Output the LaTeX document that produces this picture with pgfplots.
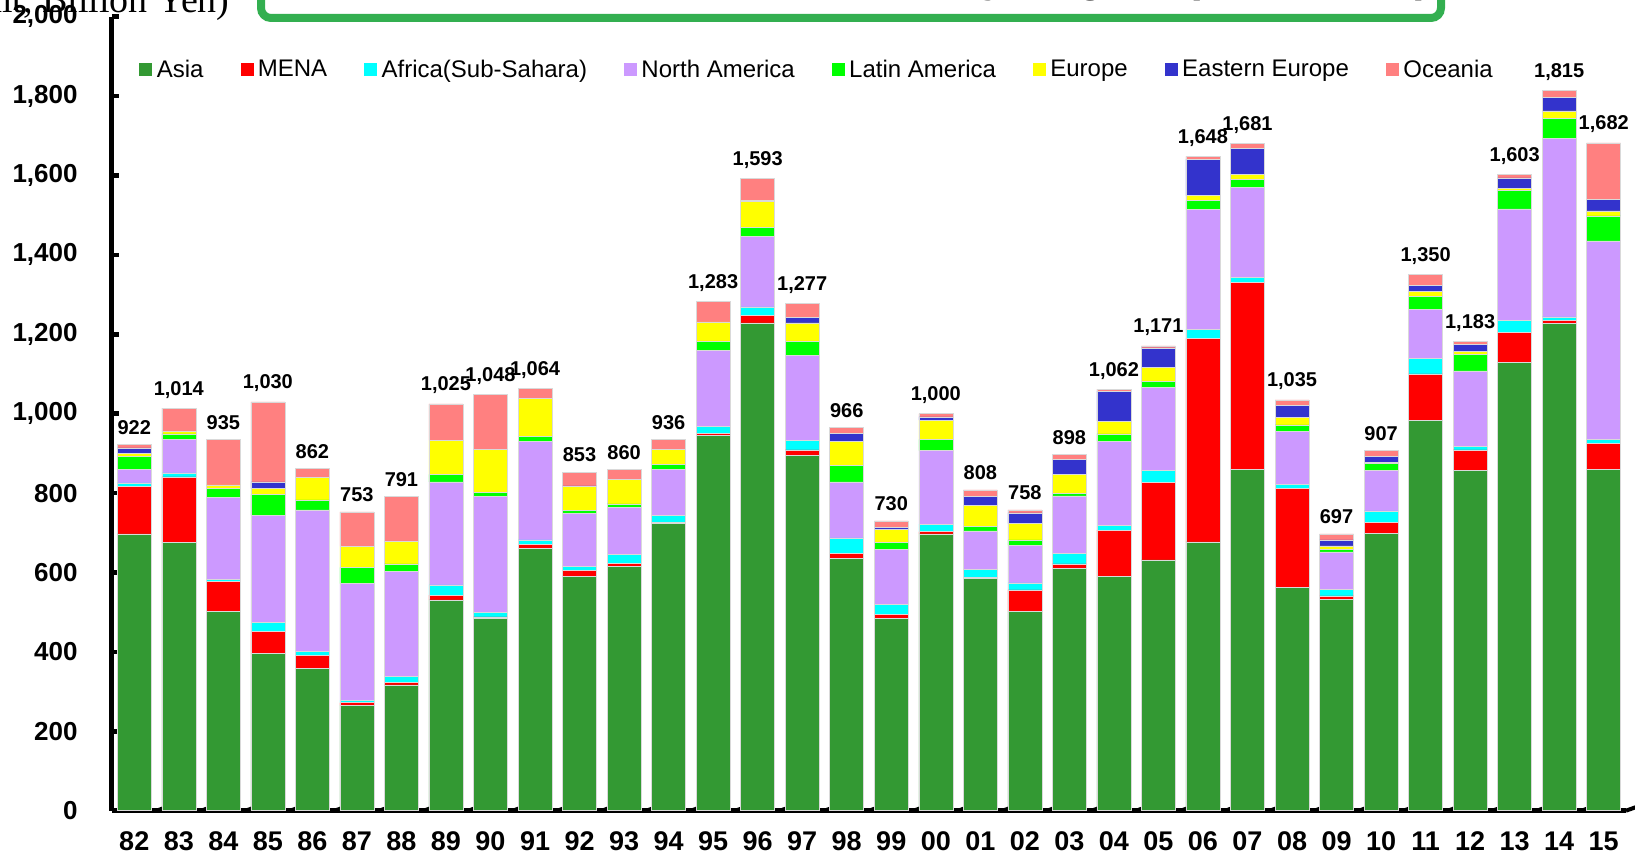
\documentclass[border=0pt]{standalone}
\usepackage{pgfplots}
\pgfplotsset{compat=1.18}
\usepackage{pgfplotstable}
\usepackage{fontspec}
\setmainfont{Liberation Sans}
\newfontfamily\seriffont{Liberation Serif}

\definecolor{cAsia}{RGB}{51,153,51}
\definecolor{cMENA}{RGB}{255,0,0}
\definecolor{cAfrica}{RGB}{0,255,255}
\definecolor{cNA}{RGB}{204,153,255}
\definecolor{cLA}{RGB}{0,255,0}
\definecolor{cEurope}{RGB}{255,255,0}
\definecolor{cEE}{RGB}{51,51,204}
\definecolor{cOceania}{RGB}{255,128,128}
\definecolor{boxgreen}{RGB}{51,175,80}

\pgfplotstableread{
x Asia MENA Africa NA LA Europe EE Oceania Total
0 697 120 9 33 34 7 14 8 922
1 676 165 10 84 14 7 0 58 1014
2 502 76 5 206 22 10 0 114 935
3 397 54 23 270 52 15 17 202 1030
4 358 33 10 357 25 56 0 23 862
5 266 6 6 294 41 53 0 87 753
6 317 6 16 263 20 57 0 112 791
7 531 12 26 259 19 86 0 92 1025
8 485 3 12 291 10 109 0 138 1048
9 661 9 12 248 13 95 0 26 1064
10 591 14 11 132 9 60 1 35 853
11 616 7 23 118 9 61 1 25 860
12 723 3 18 115 13 39 0 25 936
13 945 6 18 190 23 49 0 52 1283
14 1229 19 21 177 23 66 3 55 1593
15 895 14 24 214 35 47 14 34 1277
16 636 12 39 141 42 60 20 16 966
17 484 10 26 139 16 33 5 17 730
18 697 6 19 185 28 49 8 8 1000
19 586 1 21 97 12 52 23 16 808
20 503 53 18 94 14 41 27 8 758
21 611 11 27 144 6 48 38 13 898
22 590 117 11 212 19 32 76 5 1062
23 632 195 30 210 15 34 50 5 1171
24 677 513 23 301 23 12 92 7 1648
25 860 471 12 227 20 12 67 12 1681
26 562 250 10 134 16 19 30 14 1035
27 532 9 17 94 7 8 15 15 697
28 698 28 29 102 18 3 15 14 907
29 984 116 39 124 33 12 15 27 1350
30 857 52 8 191 42 7 17 9 1183
31 1129 75 32 280 47 5 26 9 1603
32 1228 8 8 450 49 20 34 18 1815
33 859 66 11 499 63 13 29 142 1682
}\datatable

\pgfplotsset{
  legimg/.style={legend image code/.code={\fill[##1,draw=none] (0pt,-3.25pt) rectangle (6.5pt,3.25pt);}},
}

\begin{document}
\begin{tikzpicture}
\useasboundingbox (-56pt,-22.65pt) rectangle (761.5pt,405.35pt);
\begin{axis}[
  at={(0,0)}, anchor=south west,
  scale only axis,
  width=757pt, height=397pt,
  ybar stacked,
  bar width=17pt,
  xmin=-0.5, xmax=33.5,
  ymin=0, ymax=2000,
  enlarge x limits=false, enlarge y limits=false,
  axis x line*=bottom, axis y line*=left,
  axis line style={line width=2.5pt, black},
  xtick={0,...,33},
  xticklabels={82,83,84,85,86,87,88,89,90,91,92,93,94,95,96,97,98,99,00,01,02,03,04,05,06,07,08,09,10,11,12,13,14,15},
  xtick style={draw=none},
  ytick={0,200,...,2000},
  ytick style={line width=2.3pt, black},
  tick align=inside,
  major tick length=3.5pt,
  scaled y ticks=false,
  /pgf/number format/.cd, 1000 sep={,}, assume math mode=true, /pgfplots/.cd,
  yticklabel style={font=\bfseries\fontsize{13}{13}\selectfont, anchor=east, inner sep=0pt, xshift=-17pt},
  xticklabel style={font=\bfseries\fontsize{13.5}{13.5}\selectfont, anchor=north, inner sep=0pt, yshift=-10.5pt},
  legend columns=-1,
  legend style={at={(axis description cs:0.01785,0.933)}, anchor=west, draw=none, fill=none,
    inner sep=0pt, font=\fontsize{12}{12}\selectfont,
    nodes={inner sep=0pt},
    /tikz/every odd column/.append style={column sep=2.2pt},
    /tikz/every even column/.append style={column sep=18.5pt}},
  clip=false,
]
\addplot[fill=cAsia, draw=white!85!black, line width=0.25pt, legimg] table[x=x,y=Asia]{\datatable};
\addplot[fill=cMENA, draw=white!85!black, line width=0.25pt, legimg] table[x=x,y=MENA]{\datatable};
\addplot[fill=cAfrica, draw=white!85!black, line width=0.25pt, legimg] table[x=x,y=Africa]{\datatable};
\addplot[fill=cNA, draw=white!85!black, line width=0.25pt, legimg] table[x=x,y=NA]{\datatable};
\addplot[fill=cLA, draw=white!85!black, line width=0.25pt, legimg] table[x=x,y=LA]{\datatable};
\addplot[fill=cEurope, draw=white!85!black, line width=0.25pt, legimg] table[x=x,y=Europe]{\datatable};
\addplot[fill=cEE, draw=white!85!black, line width=0.25pt, legimg] table[x=x,y=EE]{\datatable};
\addplot[fill=cOceania, draw=white!85!black, line width=0.25pt, legimg,
  point meta=\thisrow{Total},
  visualization depends on={\thisrow{Oceania} \as \oc},
  nodes near coords={\pgfmathprintnumber[1000 sep={,},assume math mode=true,fixed,precision=0]{\pgfplotspointmeta}},
  every node near coord/.append style={font=\bfseries\fontsize{10}{10}\selectfont, anchor=south, inner sep=0pt, yshift={4.8pt+0.09925pt*\oc}, text=black}]
  table[x=x,y=Oceania]{\datatable};
\legend{Asia,MENA,Africa(Sub-Sahara),North America,Latin America,Europe,Eastern Europe,Oceania}
\pgfplotsinvokeforeach{0,...,33}{
  \draw[line width=2pt, black] (axis cs:#1+0.5,0) -- ++(0,4pt);
}
\end{axis}
\draw[line width=4pt, color=boxgreen, rounded corners=5pt] (74.5pt,396.35pt) rectangle (664.5pt,470pt);
\node[anchor=base east, font=\bfseries\fontsize{22.5}{22.5}\selectfont, inner sep=0pt] at (659.5pt,409.5pt) {Overseas Construction Orders by Region (1982-2015)};
\node[anchor=base east, font=\seriffont\fontsize{19}{19}\selectfont, inner sep=0pt] at (59pt,399pt) {(Unit, Billion Yen)};
\end{tikzpicture}
\end{document}
